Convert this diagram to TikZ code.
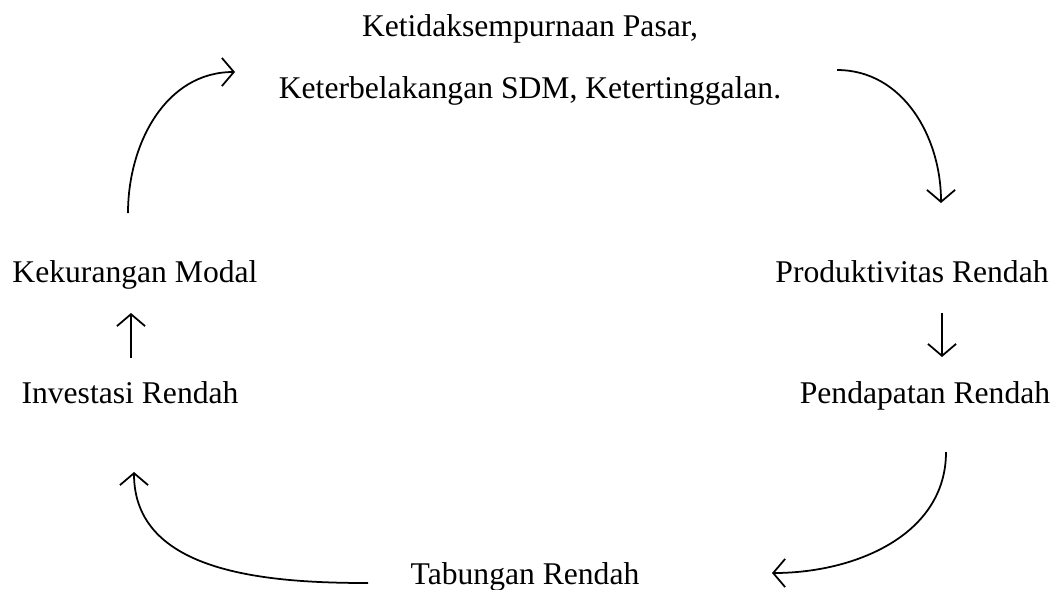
\documentclass[tikz,border=0pt]{standalone}
\usepackage{fontspec}
\setmainfont{Liberation Serif}
\usetikzlibrary{arrows.meta}

\begin{document}
\begin{tikzpicture}[x=0.02cm,y=-0.02cm,
    every node/.style={font=\fontsize{18}{20}\selectfont,inner sep=0pt,anchor=base},
    arrow/.style={line width=1pt,-{Straight Barb[length=6.8pt,width=16pt,line width=1pt]}}]
  \useasboundingbox (0,0) rectangle (1057,589);

  \node (pasar) at (530,36) {Ketidaksempurnaan Pasar,};
  \node (sdm) at (530,98) {Keterbelakangan SDM, Ketertinggalan.};

  \node (produktivitas) at (912,282) {Produktivitas Rendah};
  \node (pendapatan) at (925,403) {Pendapatan Rendah};
  \node (tabungan) at (525,584) {Tabungan Rendah};
  \node (investasi) at (130,403) {Investasi Rendah};
  \node (modal) at (135,282) {Kekurangan Modal};

  % ends of the arrows
  \coordinate (modal_out) at (128,213);
  \coordinate (sdm_in) at (235,72);
  \coordinate (sdm_out) at (837,70);
  \coordinate (produktivitas_in) at (941,203);
  \coordinate (produktivitas_out) at (942,313);
  \coordinate (pendapatan_in) at (942,357);
  \coordinate (pendapatan_out) at (946,452);
  \coordinate (tabungan_in) at (772,573);
  \coordinate (tabungan_out) at (368,583);
  \coordinate (investasi_in) at (134,472);
  \coordinate (investasi_out) at (131,358);
  \coordinate (modal_in) at (131,313);

  \draw[arrow] (modal_out) to[out=90,in=180] (sdm_in);
  \draw[arrow] (sdm_out) to[out=0,in=90] (produktivitas_in);
  \draw[arrow] (produktivitas_out) -- (pendapatan_in);
  \draw[arrow] (pendapatan_out) to[out=-90,in=0] (tabungan_in);
  \draw[arrow] (tabungan_out) to[out=180,in=-90] (investasi_in);
  \draw[arrow] (investasi_out) -- (modal_in);
\end{tikzpicture}
\end{document}
